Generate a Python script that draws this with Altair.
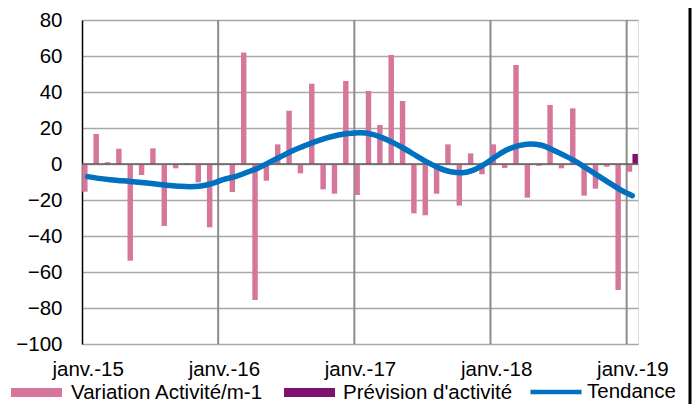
import altair as alt
import pandas as pd

# ---- data ----
start_month = "2015-01-01"
variation = [-15.4, 16.7, 1.0, 8.5, -53.7, -6.1, 8.7, -34.4, -2.4, 0.5, -10.2, -35.2,
             -0.6, -15.6, 61.9, -75.6, -9.3, 10.9, 29.6, -5.2, 44.6, -14.1, -16.5, 46.1,
             -17.2, 40.6, 21.7, 60.6, 35.0, -27.4, -28.5, -16.5, 10.9, -23.1, 5.9, -5.7,
             10.9, -2.2, 55.0, -18.7, -1.0, 32.8, -2.4, 30.9, -17.6, -13.7, -1.5, -70.0,
             -4.3]
forecast_month = "2019-01-01"
forecast = [5.6]
trend = [-7.0, -8.0, -8.8, -9.3, -9.8, -10.4, -11.1, -11.8, -12.3, -12.6, -12.2, -10.8,
         -8.5, -7.0, -4.7, -2.3, 0.9, 4.0, 7.2, 9.8, 12.3, 14.4, 16.0, 16.9,
         17.3, 16.6, 14.5, 11.6, 8.2, 4.4, 0.8, -2.3, -4.3, -4.8, -3.4, 0.0,
         4.3, 8.0, 10.2, 11.1, 10.4, 7.8, 4.8, 1.5, -2.5, -6.6, -10.6, -14.5,
         -17.6]
tick_labels = ["janv.-15", "janv.-16", "janv.-17", "janv.-18", "janv.-19"]
year_starts = ["2016-01-01", "2017-01-01", "2018-01-01", "2019-01-01"]
series = ["Variation Activité/m-1", "Prévision d'activité", "Tendance"]
colors = ["#D6769B", "#7E1170", "#0070C0"]

# ---- tables ----
base = pd.Timestamp(start_month)
def midx(d):
    d = pd.Timestamp(d)
    return (d.year - base.year) * 12 + d.month - base.month

dates = pd.date_range(start_month, periods=len(variation), freq="MS")
df_var = pd.DataFrame({"m": [midx(d) for d in dates], "value": variation, "serie": series[0]})
df_fc = pd.DataFrame({"m": [midx(forecast_month)], "value": forecast, "serie": series[1]})
df_tr = pd.DataFrame({"m": [midx(d) for d in dates], "value": trend, "serie": series[2]})
df_years = pd.DataFrame({"m": [midx(d) for d in year_starts]})
n_months = len(variation)

FONT = "Liberation Sans"
FS = 20.5
RECT = "M-1,-0.18H1V0.18H-1Z"
LEG_Y = 347

xscale = alt.Scale(domain=[0, n_months], nice=False, zero=False)
yscale = alt.Scale(domain=[-100, 80], nice=False)
label_arr = "[" + ",".join("'%s'" % t for t in tick_labels) + "]"
xaxis = alt.Axis(values=[i * 12 + 0.5 for i in range(len(tick_labels))],
                 labelExpr=label_arr + "[round((datum.value - 0.5) / 12)]",
                 grid=False, ticks=False, domain=False, title=None,
                 labelPadding=15, labelFontSize=FS, labelFont=FONT, labelColor="black")
yaxis = alt.Axis(values=list(range(-100, 81, 20)), grid=True, gridColor="#A8A8A8", gridWidth=1.3,
                 domain=True, domainColor="black", domainWidth=1.5, ticks=False, title=None,
                 labelPadding=20, labelFontSize=FS, labelFont=FONT, labelColor="black")

def leg(x, y, stype, **kw):
    return alt.Legend(orient="none", legendX=x, legendY=y, direction="horizontal", title=None,
                      symbolType=stype, symbolSize=2601, labelFontSize=FS, labelFont=FONT,
                      labelColor="black", padding=0, labelLimit=0, **kw)

vrules = alt.Chart(df_years).mark_rule(color="#8C8C8C", strokeWidth=2).encode(
    x=alt.X("m:Q", scale=xscale, axis=xaxis))

bars = alt.Chart(df_var).mark_bar().transform_calculate(
    x0="datum.m + 0.01", x1="datum.m + 0.49").encode(
    x=alt.X("x0:Q", scale=xscale, axis=xaxis), x2="x1:Q",
    y=alt.Y("value:Q", scale=yscale, axis=yaxis), y2=alt.datum(0),
    fill=alt.Fill("serie:N", scale=alt.Scale(domain=[series[0]], range=[colors[0]]),
                  legend=leg(-71, LEG_Y, RECT, symbolStrokeWidth=0, labelOffset=9)))

fc_bars = alt.Chart(df_fc).mark_bar().transform_calculate(
    x0="datum.m + 0.51", x1="datum.m + 0.99").encode(
    x=alt.X("x0:Q", scale=xscale, axis=xaxis), x2="x1:Q",
    y=alt.Y("value:Q", scale=yscale, axis=yaxis), y2=alt.datum(0),
    color=alt.Color("serie:N", scale=alt.Scale(domain=[series[1]], range=[colors[1]]),
                    legend=leg(202, LEG_Y, RECT, symbolStrokeWidth=0, labelOffset=8)))

zero = alt.Chart(pd.DataFrame({"v": [0]})).mark_rule(color="#5E5E5E", strokeWidth=1.6).encode(
    y=alt.Y("v:Q", scale=yscale, axis=yaxis))

line = alt.Chart(df_tr).mark_line(strokeWidth=5.5, interpolate="monotone", strokeCap="round").transform_calculate(
    xc="datum.m + 0.5").encode(
    x=alt.X("xc:Q", scale=xscale, axis=xaxis),
    y=alt.Y("value:Q", scale=yscale, axis=yaxis),
    stroke=alt.Stroke("serie:N", scale=alt.Scale(domain=[series[2]], range=[colors[2]]),
                      legend=leg(446, LEG_Y - 3, "stroke", symbolStrokeWidth=4.5, labelOffset=3)))

border = alt.Chart(pd.DataFrame({"a": [0]})).mark_rule(color="black", strokeWidth=3).encode(
    x=alt.value(608), y=alt.value(-12), y2=alt.value(384))

chart = alt.layer(vrules, bars, fc_bars, zero, line, border).properties(
    width=556, height=324,
    autosize=alt.AutoSizeParams(type="none"),
    padding={"left": 74, "top": 12, "right": 54, "bottom": 60},
).resolve_legend(fill="independent", color="independent", stroke="independent"
).configure_view(stroke=None).configure(font=FONT)

chart.save("out.html", embed_options={"renderer": "svg", "actions": False})
